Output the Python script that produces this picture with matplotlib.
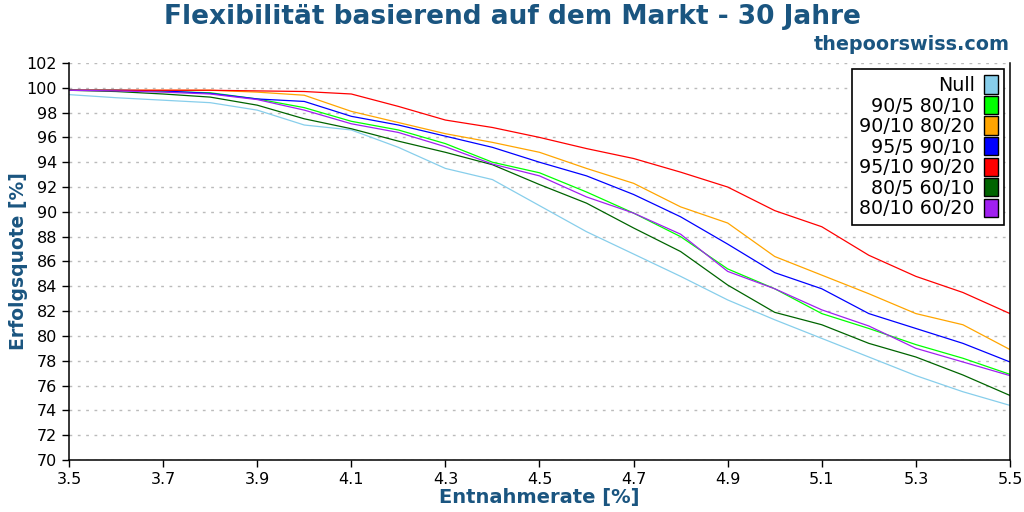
import numpy as np
import matplotlib
matplotlib.use("agg")
from matplotlib import pyplot as plt
from matplotlib.patches import Patch

# withdrawal rates
rates = [3.5, 3.6, 3.7, 3.8, 3.9, 4.0, 4.1, 4.2, 4.3, 4.4, 4.5,
         4.6, 4.7, 4.8, 4.9, 5.0, 5.1, 5.2, 5.3, 5.4, 5.5]

null = [99.45, 99.2, 99.0, 98.8, 98.2, 97.0, 96.6, 95.2, 93.5, 92.6, 90.5,
        88.4, 86.6, 84.8, 82.9, 81.3, 79.8, 78.3, 76.8, 75.5, 74.4]
f90_5 = [99.8, 99.8, 99.7, 99.6, 99.1, 98.4, 97.3, 96.6, 95.5, 94.0, 93.15,
         91.6, 89.9, 88.0, 85.4, 83.8, 81.8, 80.6, 79.3, 78.2, 76.9]
f90_10 = [99.8, 99.8, 99.8, 99.8, 99.65, 99.4, 98.1, 97.2, 96.3, 95.6, 94.8,
          93.5, 92.3, 90.4, 89.1, 86.4, 84.9, 83.4, 81.8, 80.9, 78.9]
f95_5 = [99.8, 99.8, 99.75, 99.55, 99.1, 98.9, 97.7, 97.0, 96.1, 95.2, 94.0,
         92.9, 91.4, 89.6, 87.4, 85.1, 83.8, 81.8, 80.6, 79.4, 77.9]
f95_10 = [99.8, 99.8, 99.8, 99.8, 99.75, 99.7, 99.5, 98.5, 97.4, 96.8, 96.0,
          95.1, 94.3, 93.2, 92.0, 90.1, 88.8, 86.5, 84.8, 83.5, 81.8]
f80_5 = [99.8, 99.7, 99.5, 99.25, 98.6, 97.5, 96.7, 95.7, 94.8, 93.8, 92.2,
         90.7, 88.7, 86.8, 84.1, 81.9, 80.9, 79.4, 78.3, 76.85, 75.2]
f80_10 = [99.8, 99.75, 99.65, 99.5, 99.05, 98.2, 97.1, 96.4, 95.25, 93.85, 92.9,
          91.2, 89.9, 88.2, 85.2, 83.8, 82.1, 80.8, 79.0, 77.9, 76.8]

labels = ["Null", "90/5 80/10", "90/10 80/20", "95/5 90/10",
          "95/10 90/20", "80/5 60/10", "80/10 60/20"]
series = [null, f90_5, f90_10, f95_5, f95_10, f80_5, f80_10]
colors = ["#87ceeb", "#00ff00", "#ffa500", "#0000ff",
          "#ff0000", "#006400", "#a020f0"]

blue_txt = "#1a5580"

fig = plt.figure(figsize=(10.24, 5.12), dpi=100)
ax = fig.add_axes([0.0674, 0.1016, 0.9189, 0.7754])

for vals, col in zip(series, colors):
    ax.plot(rates, vals, color=col, linewidth=0.9)

ax.set_xlim(3.5, 5.5)
ax.set_ylim(70, 102)
ax.set_xticks(np.arange(3.5, 5.51, 0.2))
ax.set_xticklabels(["%.1f" % v for v in np.arange(3.5, 5.51, 0.2)])
ax.set_yticks(range(70, 103, 2))
ax.tick_params(labelsize=11.5, direction="out", length=5, width=1.0)
ax.grid(axis="y", linestyle=(0, (2, 4)), color="#bbbbbb", linewidth=1)
ax.spines["top"].set_visible(False)
for s in ["left", "bottom", "right"]:
    ax.spines[s].set_linewidth(1.1)

ax.set_xlabel("Entnahmerate [%]", fontsize=14, fontweight="bold",
              color=blue_txt, labelpad=1)
ax.set_ylabel("Erfolgsquote [%]", fontsize=13.5, fontweight="bold",
              color=blue_txt, va="center")
ax.yaxis.set_label_coords(-0.054, 0.5)

fig.text(0.5, 0.966, "Flexibilität basierend auf dem Markt - 30 Jahre",
         ha="center", va="center", fontsize=19, fontweight="bold",
         color=blue_txt)
fig.text(0.986, 0.913, "thepoorswiss.com", ha="right", va="center",
         fontsize=13.8, fontweight="bold", color=blue_txt)

handles = [Patch(facecolor=c, edgecolor="black", linewidth=1) for c in colors]
leg = ax.legend(handles, labels, loc="upper right", markerfirst=False,
                fontsize=13.7, frameon=True, fancybox=False, edgecolor="black",
                handlelength=0.7, handleheight=1.1, handletextpad=0.5,
                borderpad=0.35, labelspacing=0.05, borderaxespad=0.3)
leg.get_frame().set_linewidth(1.2)
leg.get_frame().set_alpha(1)

fig.savefig("out.png", dpi=100)
